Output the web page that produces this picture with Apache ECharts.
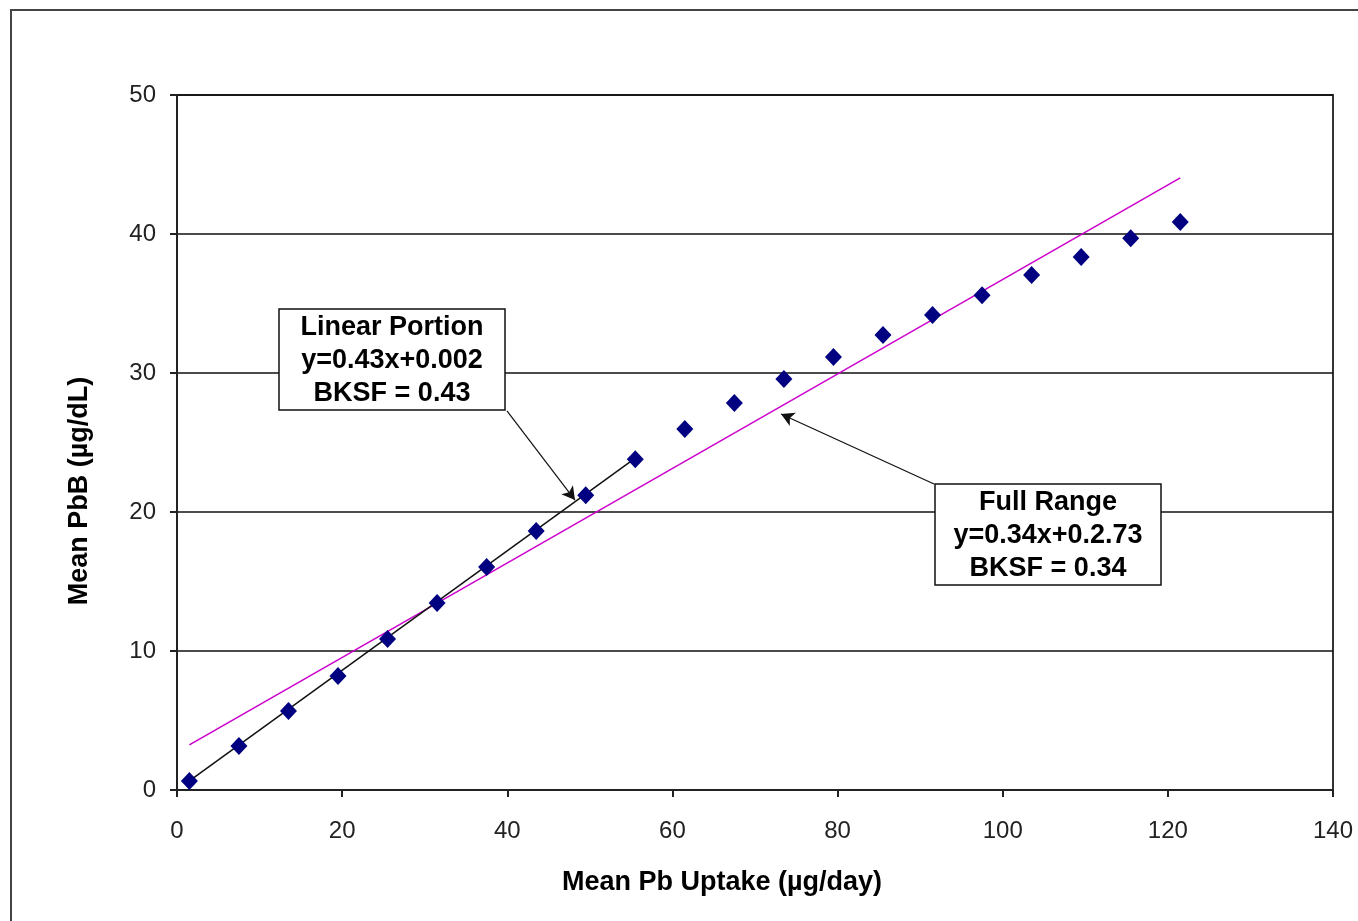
<!DOCTYPE html>
<html>
<head>
<meta charset="utf-8">
<script src="https://cdn.jsdelivr.net/npm/echarts@6/dist/echarts.min.js"></script>
<style>
  html, body { margin: 0; padding: 0; background: #fff; }
  #main { width: 1358px; height: 921px; }
</style>
</head>
<body>
<div id="main"></div>
<script>
var myChart = echarts.init(document.getElementById('main'));

// mean Pb uptake (ug/day) vs mean PbB (ug/dL)
var uptake = [1.5, 7.5, 13.5, 19.5, 25.5, 31.5, 37.5, 43.5, 49.5, 55.5, 61.5, 67.5, 73.5, 79.5, 85.5, 91.5, 97.5, 103.5, 109.5, 115.5, 121.5];
var pbb = [0.65, 3.17, 5.68, 8.2, 10.86, 13.45, 16.04, 18.63, 21.2, 23.8, 25.97, 27.84, 29.57, 31.15, 32.73, 34.17, 35.6, 37.05, 38.35, 39.7, 40.86];

// fitted lines, endpoints
var linearFit = [[1.5, 0.65], [55.5, 23.87]];
var fullFit = [[1.5, 3.24], [121.5, 44.04]];

// annotation boxes (centre in data coords) and arrows
var noteLinear = ['Linear Portion', 'y=0.43x+0.002', 'BKSF = 0.43'];
var noteFull = ['Full Range', 'y=0.34x+0.2.73', 'BKSF = 0.34'];
var noteLinearAt = [26.0, 30.97];
var noteFullAt = [105.5, 18.4];
var arrowLinear = [[39.96, 27.27], [48.2, 20.86]];
var arrowFull = [[91.68, 22.01], [73.15, 27.05]];

var points = uptake.map(function (x, i) { return [x, pbb[i]]; });
var fontFam = "'Liberation Sans', Arial, sans-serif";

option = {
    backgroundColor: '#fff',
    animation: false,
    grid: {
        left: 177,
        right: 25,
        top: 95,
        bottom: 131,
        show: true,
        borderColor: '#333',
        borderWidth: 2
    },
    xAxis: {
        type: 'value',
        min: 0,
        max: 140,
        interval: 20,
        axisLine: { lineStyle: { color: '#222', width: 2 } },
        axisTick: { show: true, length: 7, lineStyle: { color: '#222', width: 2 } },
        axisLabel: { color: '#222', fontSize: 24, fontFamily: fontFam, margin: 29 },
        splitLine: { show: false }
    },
    yAxis: {
        type: 'value',
        min: 0,
        max: 50,
        interval: 10,
        axisLine: { lineStyle: { color: '#222', width: 2 } },
        axisTick: { show: true, length: 7, lineStyle: { color: '#222', width: 2 } },
        axisLabel: { color: '#222', fontSize: 24, fontFamily: fontFam, margin: 21 },
        splitLine: { show: true, lineStyle: { color: '#111', width: 1.5 } }
    },
    series: [
        {
            name: 'full',
            type: 'line',
            data: fullFit,
            symbol: 'none',
            lineStyle: { color: '#cc00cc', width: 1.5 },
            z: 2
        },
        {
            name: 'linear',
            type: 'line',
            data: linearFit,
            symbol: 'none',
            lineStyle: { color: '#111', width: 1.5 },
            z: 3,
            markLine: {
                silent: true,
                symbol: ['none', 'arrow'],
                symbolSize: [11, 13],
                label: { show: false },
                lineStyle: { color: '#111', width: 1.2, type: 'solid' },
                data: [
                    [{ coord: arrowLinear[0] }, { coord: arrowLinear[1] }],
                    [{ coord: arrowFull[0] }, { coord: arrowFull[1] }]
                ]
            }
        },
        {
            name: 'PbB',
            type: 'scatter',
            data: points,
            symbol: 'diamond',
            symbolSize: [17, 18],
            itemStyle: { color: '#000080', opacity: 1 },
            z: 4
        }
    ]
};

myChart.setOption(option);

function noteBox(lines, at) {
    var p = myChart.convertToPixel({ gridIndex: 0 }, at);
    var w = 226, h = 101;
    return {
        type: 'group',
        x: Math.round(p[0] - w / 2),
        y: Math.round(p[1] - h / 2),
        z: 20,
        children: [
            { type: 'rect', shape: { x: 0, y: 0, width: w, height: h }, style: { fill: '#fff', stroke: '#111', lineWidth: 1.5 } },
            { type: 'text', x: w / 2, y: h / 2 + 1, style: {
                text: lines.join('\n'), fill: '#000', font: 'bold 27px ' + fontFam,
                align: 'center', verticalAlign: 'middle', lineHeight: 33 } }
        ]
    };
}

myChart.setOption({
    graphic: [
        { type: 'rect', shape: { x: 11, y: 10, width: 1400, height: 1000 },
          style: { fill: 'none', stroke: '#444', lineWidth: 2 }, z: -1, silent: true },
        noteBox(noteLinear, noteLinearAt),
        noteBox(noteFull, noteFullAt),
        { type: 'text', x: 722, y: 883, style: { text: 'Mean Pb Uptake (µg/day)', fill: '#000',
          font: 'bold 27px ' + fontFam, align: 'center', verticalAlign: 'middle' } },
        { type: 'text', x: 80, y: 491, rotation: Math.PI / 2, style: { text: 'Mean PbB (µg/dL)', fill: '#000',
          font: 'bold 27px ' + fontFam, align: 'center', verticalAlign: 'middle' } }
    ]
});
</script>
</body>
</html>
